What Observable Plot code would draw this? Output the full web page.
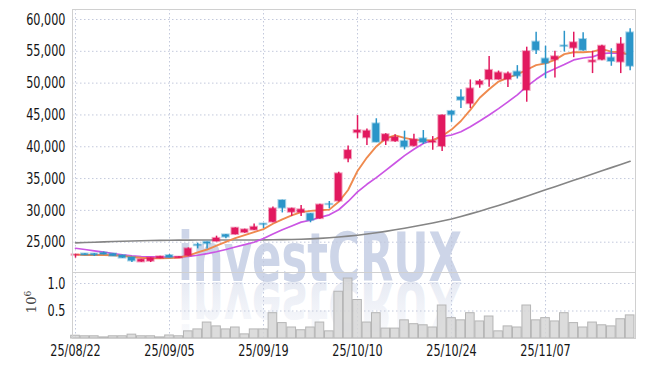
<!DOCTYPE html>
<html><head><meta charset="utf-8">
<script src="https://cdn.jsdelivr.net/npm/d3@7"></script>
<script src="https://cdn.jsdelivr.net/npm/@observablehq/plot@0.6"></script>
<style>
html,body{margin:0;padding:0;background:#fff;}
#wrap{position:relative;width:645px;height:366px;overflow:hidden;background:#fff;}
#wrap > svg{position:absolute;left:0;margin:0;}
</style></head><body><div id="wrap"></div>
<script>
const dates = ["25/08/22","25/08/25","25/08/26","25/08/27","25/08/28","25/08/29","25/09/01","25/09/02","25/09/03","25/09/04",
"25/09/05","25/09/08","25/09/09","25/09/10","25/09/11","25/09/12","25/09/15","25/09/16","25/09/17","25/09/18",
"25/09/19","25/09/22","25/09/23","25/09/24","25/09/25","25/09/26","25/09/29","25/09/30","25/10/01","25/10/02",
"25/10/10","25/10/13","25/10/14","25/10/15","25/10/16","25/10/17","25/10/20","25/10/21","25/10/22","25/10/23",
"25/10/24","25/10/27","25/10/28","25/10/29","25/10/30","25/10/31","25/11/03","25/11/04","25/11/05","25/11/06",
"25/11/07","25/11/10","25/11/11","25/11/12","25/11/13","25/11/14","25/11/17","25/11/18","25/11/19","25/11/20"];
const open = [22950,23150,23150,23300,23150,22900,22600,21900,22000,22450,22900,22500,22850,24550,25000,25100,26150,26200,26500,26900,
27850,28150,31550,29700,29650,29450,28700,30950,31450,38100,42200,41400,43600,40900,40850,40850,40100,41250,40650,40050,
45550,47750,46750,49750,50550,50550,50550,51750,48850,56450,53800,53650,55850,55500,56850,53300,53650,53950,53300,57900];
const high = [23050,23200,23200,23450,23200,22950,22650,22300,22550,22800,23050,22700,24100,24850,25050,25950,26200,27250,27050,27850,
27900,30550,31600,30350,30750,29500,30950,31400,36000,40100,44900,42800,44400,42050,41900,42450,41950,42550,41600,45000,
45650,48950,50500,50550,54200,51900,51750,52750,55650,58000,55800,55000,58150,58000,57900,55000,55950,55400,57150,58550];
const low = [22500,22900,22750,23000,22750,22450,21800,21850,21800,22400,22500,22450,22800,23950,23950,25050,25550,26150,26400,26850,
27150,28050,29600,29050,29050,28050,28600,30250,31350,37500,41250,40200,40650,40200,40700,39500,40000,40350,39450,39250,
43850,46000,46000,49200,49350,50500,49300,50650,47000,54500,50700,50800,54900,54000,55000,51500,53500,52650,51500,51950];
const close = [23000,22950,22950,23050,22800,22500,22050,22250,22500,22700,22550,22650,23950,24450,24750,25600,25800,27200,26950,27350,
27750,30250,30350,30250,30100,28400,30850,30900,35750,39400,42550,42450,40700,41900,41450,39950,41100,40650,40850,44900,
45000,47300,49100,50250,52000,51600,51450,51100,54950,55150,53100,54150,55750,56350,55150,53500,55800,53400,56100,52650];
const volume = [50000,40000,40000,20000,40000,40000,70000,40000,40000,20000,55000,40000,130000,165000,290000,220000,165000,200000,75000,165000,
165000,460000,280000,200000,150000,200000,290000,130000,850000,1090000,700000,290000,460000,180000,180000,330000,260000,240000,200000,600000,
370000,330000,460000,310000,400000,130000,220000,200000,600000,330000,370000,310000,460000,280000,200000,290000,240000,220000,350000,420000];
const ma5 = [23050,23000,23000,22980,22950,22850,22680,22560,22480,22450,22500,22600,22900,23400,23850,24450,25050,25650,26100,26570,
27050,27900,28600,29200,29730,29930,30010,30120,31350,33200,36200,38300,40050,41300,41800,41400,41080,41050,41000,41700,
42700,44050,45800,47700,49050,50250,50860,51380,52100,52820,53100,53650,54550,54850,54850,54950,55350,54950,54850,54450];
const ma10 = [24050,23850,23650,23430,23220,23020,22860,22750,22690,22660,22640,22640,22760,22950,23200,23500,23850,24250,24620,25000,
25580,26300,26950,27550,28150,28450,28900,29300,30100,31400,32900,34100,35150,36300,37450,38600,39600,40500,41050,41600,
41850,42350,43150,44050,45000,46000,47050,48150,49500,50600,51600,52270,52920,53650,53950,54120,54650,54750,54700,54500];
const maLong = [24900,24950,25000,25050,25100,25150,25200,25230,25260,25290,25310,25320,25330,25340,25350,25350,25350,25350,25350,25350,
25360,25380,25400,25430,25470,25520,25600,25700,25820,25950,26100,26280,26480,26700,26950,27200,27460,27740,28030,28340,
28660,29050,29450,29880,30320,30770,31250,31730,32220,32720,33230,33730,34230,34720,35220,35720,36220,36720,37220,37730];
const priceTicks = [25000,30000,35000,40000,45000,50000,55000,60000];
const volumeTicks = [500000,1000000];
const dateTicks = [0,10,20,30,40,50];

const UP = "#e2195f", DOWN = "#2b95c9";
const rows = dates.map((d,i)=>({i, date:d, open:open[i], high:high[i], low:low[i], close:close[i],
  volume:volume[i], ma5:ma5[i], ma10:ma10[i], maLong:maLong[i], col: close[i] >= open[i] ? UP : DOWN}));

const FONT = '"Liberation Sans Narrow","Arial Narrow","DejaVu Sans Condensed",sans-serif';
const xDomain = [-0.32, 59.57];
const gridStyle = {stroke:"#c3c9dc", strokeOpacity:1, strokeDasharray:"1.5,2.5", strokeWidth:1};
const labelStyle = {fontSize:16, fill:"#151515", stroke:"#151515", strokeWidth:0.35, label:null, tickSize:0};

const wrap = document.getElementById("wrap");

// watermark + exponent label layer (behind)
const NS = "http://www.w3.org/2000/svg";
const wm = document.createElementNS(NS,"svg");
wm.setAttribute("width",645); wm.setAttribute("height",366);
wm.style.top = "0px";
wm.innerHTML = `
<defs><linearGradient id="fade" x1="0" y1="1" x2="0" y2="0">
<stop offset="0" stop-color="#cfd6e8" stop-opacity="0.6"/>
<stop offset="1" stop-color="#cfd6e8" stop-opacity="0.05"/></linearGradient>
<clipPath id="refl"><rect x="0" y="282" width="645" height="54"/></clipPath></defs>
<text x="178" y="281" font-family='${FONT}' font-weight="bold" font-size="67" fill="#cdd5e8" textLength="284" lengthAdjust="spacingAndGlyphs">investCRUX</text>
<g clip-path="url(#refl)"><g transform="translate(0,563) scale(1,-1)">
<text x="178" y="281" font-family='${FONT}' font-weight="bold" font-size="67" fill="url(#fade)" textLength="284" lengthAdjust="spacingAndGlyphs">investCRUX</text></g></g>
<text transform="translate(36,302) rotate(-90)" text-anchor="middle" font-family="DejaVu Serif" font-size="13" fill="#444">10<tspan dy="-5" font-size="9">6</tspan></text>`;
wrap.appendChild(wm);

const price = Plot.plot({
  width:645, height:272, marginLeft:72, marginRight:10, marginTop:9, marginBottom:0,
  style:{background:"none", fontFamily:FONT, fontSize:"16px", color:"#222", overflow:"visible"},
  x:{type:"linear", domain:xDomain, axis:null},
  y:{domain:[20238,61572], axis:null},
  color:{type:"identity"},
  marks:[
    Plot.gridY(priceTicks, gridStyle),
    Plot.gridX(dateTicks, gridStyle),
    Plot.axisY(priceTicks, {...labelStyle, tickPadding:7, tickFormat:d3.format(",")}),
    Plot.line(rows, {x:"i", y:"maLong", stroke:"#858585", strokeWidth:1.6}),
    Plot.line(rows, {x:"i", y:"ma10", stroke:"#cb55e4", strokeWidth:1.7}),
    Plot.line(rows, {x:"i", y:"ma5", stroke:"#ef8a4e", strokeWidth:1.9}),
    Plot.ruleX(rows, {x:"i", y1:"low", y2:"high", stroke:"col", strokeWidth:1.5}),
    Plot.rect(rows, {x1:d=>d.i-0.36, x2:d=>d.i+0.36, y1:"open", y2:"close", fill:"col", stroke:"col", strokeOpacity:0.4, strokeWidth:2}),
    Plot.frame({stroke:"#d0d0d0"})
  ]
});
price.style.top = "0px";
wrap.appendChild(price);

const vol = Plot.plot({
  width:645, height:94, marginLeft:72, marginRight:10, marginTop:0, marginBottom:28,
  style:{background:"none", fontFamily:FONT, fontSize:"16px", color:"#222", overflow:"visible"},
  x:{type:"linear", domain:xDomain, axis:null},
  y:{domain:[0,1200000], axis:null},
  marks:[
    Plot.gridY(volumeTicks, gridStyle),
    Plot.gridX(dateTicks, gridStyle),
    Plot.rectY(rows, {x1:d=>d.i-0.46, x2:d=>d.i+0.46, y:"volume", fill:"#d6d6d6", fillOpacity:0.85, stroke:"#b5b5b5", strokeWidth:1}),
    Plot.axisY(volumeTicks, {...labelStyle, tickPadding:7, tickFormat:d=>(d/1e6).toFixed(1)}),
    Plot.axisX(dateTicks, {...labelStyle, tickPadding:6, tickFormat:i=>dates[i]}),
    Plot.frame({stroke:"#d0d0d0"})
  ]
});
vol.style.top = "272px";
wrap.appendChild(vol);

// narrow the tick labels to match the condensed face of the original
[price, vol].forEach(svg => svg.querySelectorAll("text").forEach(t => {
  const w = t.getComputedTextLength();
  if (w > 0) { t.setAttribute("textLength", (w * 0.78).toFixed(1)); t.setAttribute("lengthAdjust", "spacingAndGlyphs"); }
}));
</script></body></html>
